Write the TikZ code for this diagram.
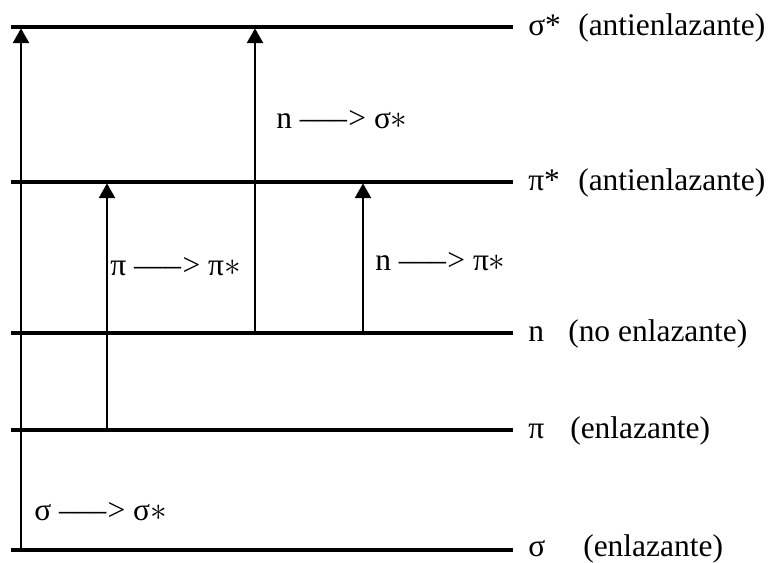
\documentclass[tikz,border=0pt]{standalone}
\usepackage{fontspec}
\setmainfont{Liberation Serif}
\usetikzlibrary{arrows.meta}
\tikzset{
  orbital/.style={line width=3pt},
  trans/.style={line width=1.5pt,-{Triangle[width=12pt,length=11pt]},shorten >=1pt},
  lab/.style={anchor=base west,inner sep=0pt,font=\fontsize{23.6}{28}\selectfont}
}

\begin{document}
\begin{tikzpicture}[x=0.75pt,y=-0.75pt]
  \useasboundingbox (0,0) rectangle (771,562);
  % energy levels: y / baseline / name / symbol / x of note / note
  \foreach \yy/\by/\nm/\sym/\px/\txt in {27/35/ss/{σ*}/578/antienlazante, 182/190/ps/{π*}/578/antienlazante,
      333/341/n/n/568/no enlazante, 430/438/p/π/570/enlazante, 550/556/s/σ/583/enlazante}{
    \coordinate (L\nm) at (11,\yy);
    \coordinate (R\nm) at (513,\yy);
    \draw[orbital] (L\nm) -- (R\nm);
    \node[lab] (sym\nm) at (528,\by) {\sym};
    \node[lab] (txt\nm) at (\px,\by) {(\txt)};
  }
  % transitions: x / from / to
  \foreach \xx/\from/\to in {21/s/ss, 107/p/ps, 255/n/ss, 363/n/ps}{
    \coordinate (x\from\to) at (\xx,0);
    \draw[trans] (x\from\to |- L\from) -- (x\from\to |- L\to);
  }
  % transition labels
  \node[lab] (tss) at (34,520) {σ –––\kern1pt> σ$\ast$};
  \node[lab] (tpp) at (110,275) {π –––\kern1pt> π$\ast$};
  \node[lab] (tns) at (276,128) {n –––\kern1pt> σ$\ast$};
  \node[lab] (tnp) at (375,270) {n –––\kern1pt> π$\ast$};
\end{tikzpicture}
\end{document}
